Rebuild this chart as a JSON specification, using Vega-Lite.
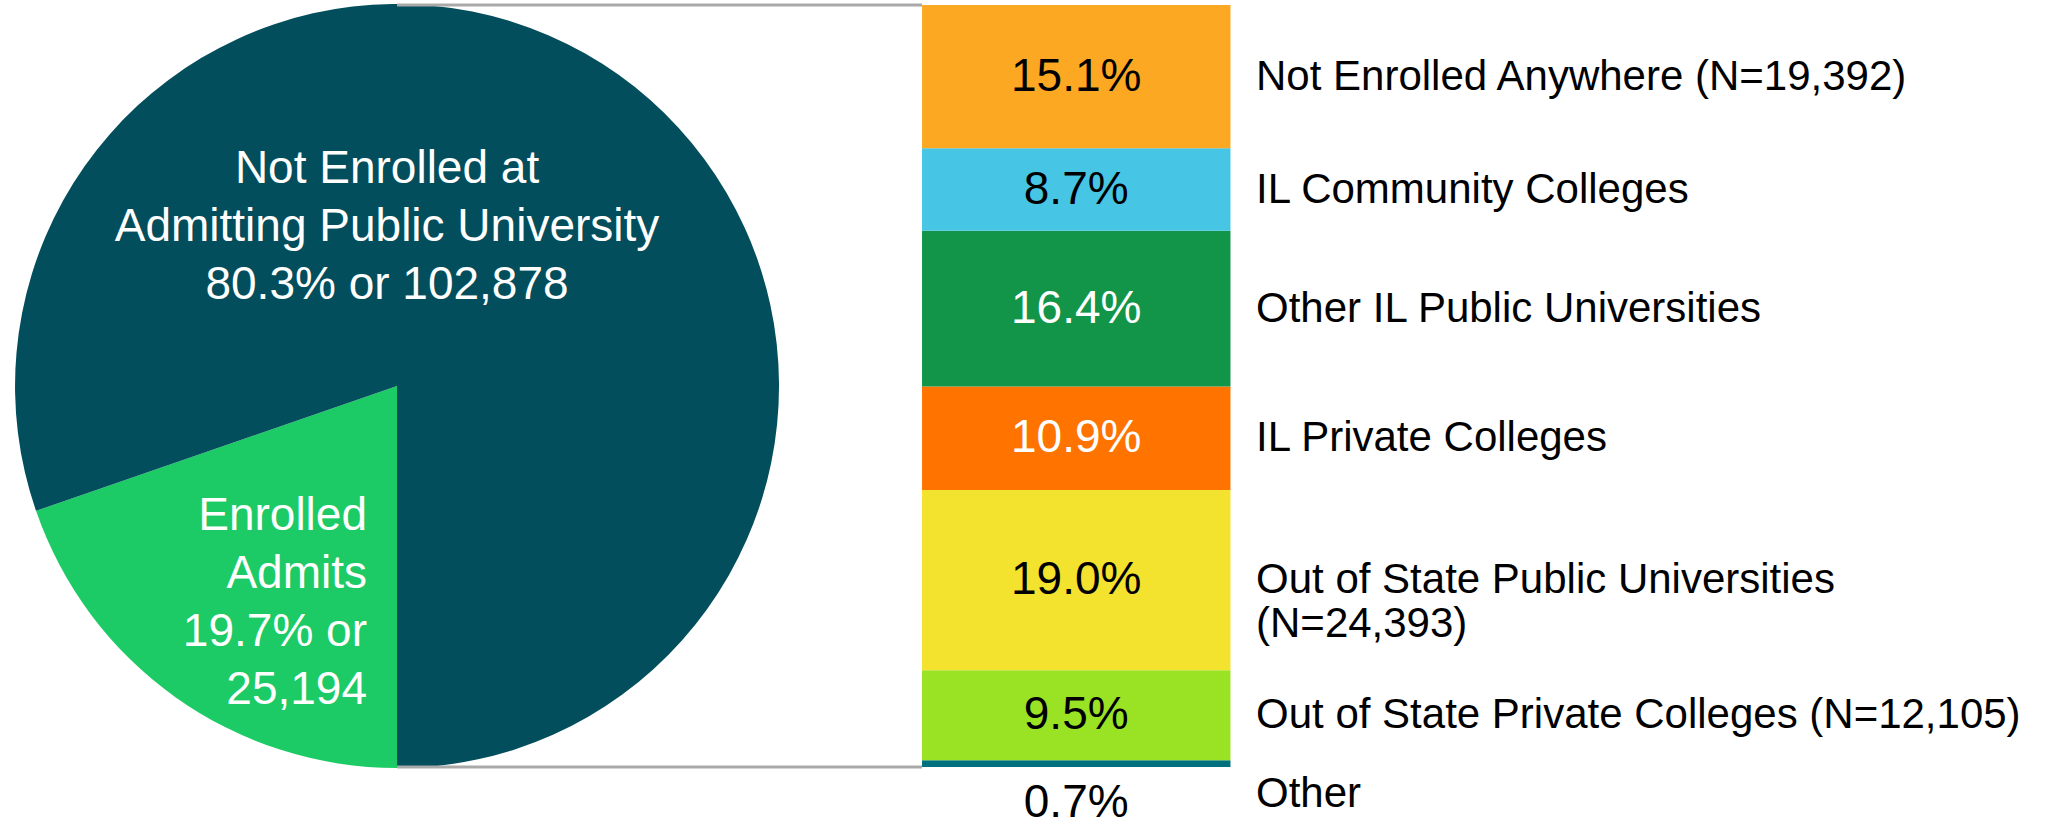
{
  "$schema": "https://vega.github.io/schema/vega-lite/v6.json",
  "width": 2046,
  "height": 826,
  "padding": 0,
  "autosize": {"type": "fit", "contains": "padding"},
  "background": "white",
  "config": {"view": {"stroke": null}, "font": "Liberation Sans"},
  "datasets": {
    "pie": [
      {"segment": "Enrolled Admits", "share": 0.197, "count": 25194, "label": ["Enrolled", "Admits", "19.7% or", "25,194"]},
      {"segment": "Not Enrolled at Admitting Public University", "share": 0.803, "count": 102878, "label": ["Not Enrolled at", "Admitting Public University", "80.3% or 102,878"]}
    ],
    "dest": [
      {"category": "Other", "share": 0.007, "rank": 1, "label": "Other"},
      {"category": "Out of State Private Colleges", "share": 0.095, "rank": 2, "label": "Out of State Private Colleges (N=12,105)"},
      {"category": "Out of State Public Universities", "share": 0.19, "rank": 3, "label": ["Out of State Public Universities", "(N=24,393)"]},
      {"category": "IL Private Colleges", "share": 0.109, "rank": 4, "label": "IL Private Colleges"},
      {"category": "Other IL Public Universities", "share": 0.164, "rank": 5, "label": "Other IL Public Universities"},
      {"category": "IL Community Colleges", "share": 0.087, "rank": 6, "label": "IL Community Colleges"},
      {"category": "Not Enrolled Anywhere", "share": 0.151, "rank": 7, "label": "Not Enrolled Anywhere (N=19,392)"}
    ]
  },
  "layer": [
    {
      "data": {"name": "pie"},
      "mark": {"type": "arc", "outerRadius": 382},
      "encoding": {
        "x": {"datum": 0.4164, "type": "quantitative", "scale": {"domain": [0, 2.1458], "nice": false, "zero": false}, "axis": null},
        "y": {"datum": 0.4015, "type": "quantitative", "scale": {"domain": [-0.058, 0.8083], "nice": false, "zero": false}, "axis": null},
        "theta": {"field": "share", "type": "quantitative", "stack": true, "scale": {"range": [3.14159265, 9.42477796]}},
        "order": {"field": "share", "sort": "ascending"},
        "color": {
          "field": "segment", "type": "nominal", "legend": null,
          "scale": {
            "domain": ["Enrolled Admits", "Not Enrolled at Admitting Public University", "Not Enrolled Anywhere", "IL Community Colleges", "Other IL Public Universities", "IL Private Colleges", "Out of State Public Universities", "Out of State Private Colleges", "Other"],
            "range": ["#1CCB66", "#034E5C", "#FCA823", "#47C5E5", "#129548", "#FF7300", "#F3E22E", "#9AE224", "#00707F"]
          }
        }
      }
    },
    {
      "data": {"name": "pie"},
      "transform": [{"filter": "datum.segment === 'Not Enrolled at Admitting Public University'"}],
      "mark": {"type": "text", "align": "center", "baseline": "alphabetic", "fontSize": 46, "lineHeight": 58, "color": "white"},
      "encoding": {
        "x": {"datum": 0.4059, "type": "quantitative", "axis": null},
        "y": {"datum": 0.6153, "type": "quantitative", "axis": null},
        "text": {"field": "label"}
      }
    },
    {
      "data": {"name": "pie"},
      "transform": [{"filter": "datum.segment === 'Enrolled Admits'"}],
      "mark": {"type": "text", "align": "right", "baseline": "alphabetic", "fontSize": 46, "lineHeight": 58, "color": "white"},
      "encoding": {
        "x": {"datum": 0.3849, "type": "quantitative", "axis": null},
        "y": {"datum": 0.2493, "type": "quantitative", "axis": null},
        "text": {"field": "label"}
      }
    },
    {
      "data": {"values": [{"edge": "top", "share": 0.803}, {"edge": "bottom", "share": 0.0}]},
      "mark": {"type": "rule", "color": "#A9A9A9", "strokeWidth": 3},
      "encoding": {
        "x": {"datum": 0.4164, "type": "quantitative", "axis": null},
        "x2": {"datum": 0.967},
        "y": {"field": "share", "type": "quantitative", "axis": null}
      }
    },
    {
      "data": {"name": "dest"},
      "transform": [{"stack": "share", "groupby": [], "sort": [{"field": "rank", "order": "ascending"}], "as": ["share_start", "share_end"]}],
      "mark": {"type": "bar"},
      "encoding": {
        "x": {"datum": 0.967, "type": "quantitative", "axis": null},
        "x2": {"datum": 1.2905},
        "y": {"field": "share_start", "type": "quantitative", "axis": null},
        "y2": {"field": "share_end"},
        "color": {"field": "category", "type": "nominal", "legend": null}
      }
    },
    {
      "data": {"name": "dest"},
      "mark": {"type": "text", "align": "center", "baseline": "middle", "fontSize": 46},
      "encoding": {
        "x": {"datum": 1.1287, "type": "quantitative", "axis": null},
        "y": {"field": "share", "type": "quantitative", "stack": "zero", "bandPosition": 0.5, "axis": null},
        "detail": {"field": "category"},
        "order": {"field": "rank"},
        "text": {"field": "share", "type": "quantitative", "format": ".1%"},
        "opacity": {"condition": {"test": "datum.category === 'Other'", "value": 0}, "value": 1},
        "color": {"condition": {"test": "datum.category === 'Other IL Public Universities' || datum.category === 'IL Private Colleges'", "value": "white"}, "value": "black"}
      }
    },
    {
      "data": {"name": "dest"},
      "mark": {"type": "text", "align": "left", "baseline": "middle", "fontSize": 42, "lineHeight": 44, "color": "black"},
      "encoding": {
        "x": {"datum": 1.3173, "type": "quantitative", "axis": null},
        "y": {"field": "share", "type": "quantitative", "stack": "zero", "bandPosition": 0.5, "axis": null},
        "detail": {"field": "category"},
        "order": {"field": "rank"},
        "text": {"field": "label"},
        "opacity": {"condition": {"test": "datum.category === 'Other'", "value": 0}, "value": 1}
      }
    },
    {
      "data": {"name": "dest"},
      "transform": [{"filter": "datum.category === 'Other'"}],
      "mark": {"type": "text", "align": "center", "baseline": "middle", "fontSize": 46, "color": "black", "dy": 36},
      "encoding": {
        "x": {"datum": 1.1287, "type": "quantitative", "axis": null},
        "y": {"datum": 0, "type": "quantitative", "axis": null},
        "text": {"field": "share", "type": "quantitative", "format": ".1%"}
      }
    },
    {
      "data": {"name": "dest"},
      "transform": [{"filter": "datum.category === 'Other'"}],
      "mark": {"type": "text", "align": "left", "baseline": "middle", "fontSize": 42, "color": "black", "dy": 27},
      "encoding": {
        "x": {"datum": 1.3173, "type": "quantitative", "axis": null},
        "y": {"datum": 0, "type": "quantitative", "axis": null},
        "text": {"field": "label"}
      }
    }
  ]
}
